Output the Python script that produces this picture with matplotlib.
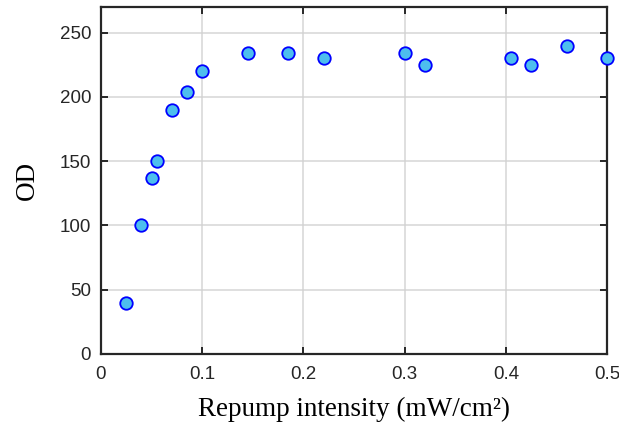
import matplotlib
matplotlib.use("Agg")
import matplotlib.pyplot as plt

# repump intensity (mW/cm^2) vs optical depth
intensity = [0.025, 0.04, 0.05, 0.055, 0.07, 0.085, 0.10, 0.145, 0.185,
             0.22, 0.30, 0.32, 0.405, 0.425, 0.46, 0.50]
od = [40, 100, 137, 150, 190, 204, 220, 234, 234,
      230, 234, 225, 230, 225, 240, 230]

xticks = [0, 0.1, 0.2, 0.3, 0.4, 0.5]
xticklabels = ["0", "0.1", "0.2", "0.3", "0.4", "0.5"]
yticks = [0, 50, 100, 150, 200, 250]

fig = plt.figure(figsize=(6.19, 4.38), dpi=100)
ax = fig.add_axes([0.163, 0.192, 0.818, 0.792])

ax.plot(intensity, od, 'o', markersize=9, markerfacecolor='#4DBEEE',
        markeredgecolor='#0000FF', markeredgewidth=1.3, clip_on=False, zorder=3)

ax.set_xlim(0, 0.5)
ax.set_ylim(0, 270)
ax.set_xticks(xticks)
ax.set_xticklabels(xticklabels)
ax.set_yticks(yticks)

ax.grid(True, color='#d0d0d0', linewidth=1.2, alpha=0.8)
ax.set_axisbelow(True)

for s in ax.spines.values():
    s.set_linewidth(1.6)
    s.set_color('#262626')

ax.tick_params(direction='in', top=True, right=True, length=5, width=1.4,
               colors='#262626', labelsize=13.5)
ax.tick_params(axis='x', pad=9)
ax.tick_params(axis='y', pad=7)
for lbl in ax.get_xticklabels() + ax.get_yticklabels():
    lbl.set_family('Liberation Sans')

ax.set_xlabel('Repump intensity (mW/cm\u00b2)', fontsize=19.5,
              family='Liberation Serif', labelpad=10)
ax.set_ylabel('OD', fontsize=19.5, family='Liberation Serif', labelpad=14)

fig.savefig('out.png', dpi=100)
